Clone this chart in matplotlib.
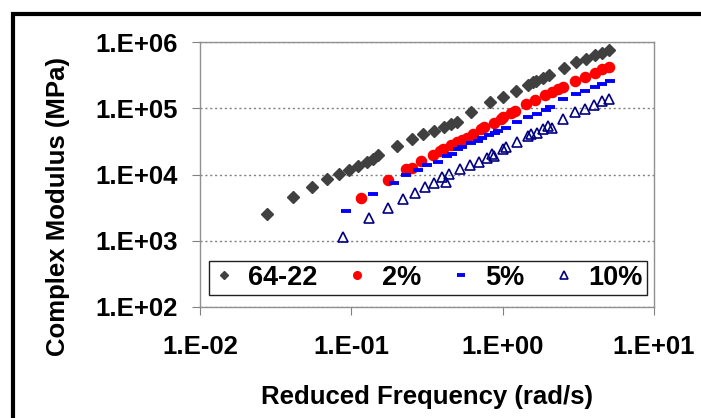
import math
import matplotlib
matplotlib.use("Agg")
import matplotlib.pyplot as plt
from matplotlib.ticker import FuncFormatter, NullLocator
from matplotlib.patches import Rectangle

plt.rcParams['font.family'] = ['Liberation Sans', 'DejaVu Sans']
plt.rcParams['font.weight'] = 'bold'

# 64-22 binder
f_base = [0.0276, 0.0414, 0.0552, 0.0694, 0.0829, 0.0970, 0.111, 0.126, 0.140, 0.149,
          0.200, 0.250, 0.299, 0.351, 0.409, 0.456, 0.499, 0.614, 0.821, 1.012,
          1.226, 1.461, 1.596, 1.671, 1.849, 2.020, 2.538, 3.033, 3.574, 4.081,
          4.539, 5.01]
e_base = [2520, 4520, 6530, 8460, 10190, 11700, 13590, 15450, 17340, 19500,
          26980, 34200, 40300, 46000, 51400, 57700, 62300, 86700, 122800, 147700,
          183300, 226000, 244800, 257000, 281300, 320100, 408600, 491300, 555000, 627000,
          689000, 746000]

# 2%
f_2 = [0.1154, 0.174, 0.230, 0.2507, 0.2888, 0.3457, 0.3857, 0.4056, 0.4574, 0.5021,
       0.5392, 0.5843, 0.6327, 0.7224, 0.7538, 0.8774, 0.9714, 1.011, 1.142, 1.208,
       1.428, 1.637, 1.906, 2.111, 2.334, 2.50, 3.024, 3.504, 4.081, 4.539, 5.05]
e_2 = [4457, 8260, 11990, 12630, 15730, 19520, 22670, 24060, 27760, 30810,
       33270, 35660, 40710, 49140, 51790, 60560, 69620, 73370, 84600, 91990,
       116600, 135400, 158400, 174000, 193200, 210800, 257000, 298500, 343200, 385000, 423000]

# 5%
f_5 = [0.0920, 0.1391, 0.1921, 0.2310, 0.2772, 0.3150, 0.3713, 0.4272, 0.4608, 0.5098,
       0.5367, 0.6164, 0.6910, 0.7308, 0.8107, 0.8907, 0.9367, 1.045, 1.245, 1.461,
       1.688, 1.921, 2.057, 2.518, 3.033, 3.504, 4.081, 4.539, 5.09]
e_5 = [2823, 5018, 7360, 9660, 11820, 13680, 15620, 19050, 20080, 24060,
       26340, 30280, 32450, 35290, 39320, 42900, 45510, 49650, 62930, 73370,
       82860, 94580, 105000, 137300, 166300, 184600, 208600, 235600, 259700]

# 10%
f_10 = [0.0877, 0.1315, 0.1756, 0.2207, 0.2636, 0.3083, 0.3504, 0.3959, 0.4206, 0.4422,
        0.5231, 0.6089, 0.695, 0.785, 0.847, 0.8774, 1.011, 1.053, 1.245, 1.479,
        1.533, 1.688, 1.858, 2.005, 2.105, 2.507, 3.010, 3.504, 4.019, 4.539, 5.064]
e_10 = [1146, 2175, 3147, 4335, 5250, 6404, 7568, 9070, 7621, 10100,
        11900, 13780, 15620, 17960, 20570, 18720, 23890, 25790, 31350, 37840,
        40570, 42900, 48290, 54160, 51050, 69860, 86700, 98970, 112600, 129400, 138800]

fig = plt.figure(figsize=(7.01, 4.18), dpi=100)
ax = fig.add_axes([200/701, 111/418, 454/701, 265/418])

ax.plot(f_base, e_base, ls='none', marker='D', ms=6, color='#404040', mec='#404040', label='64-22')
ax.plot(f_2, e_2, ls='none', marker='o', ms=7.3, color='#ff0000', mec='#ff0000', label='2%')
ax.plot(f_5, e_5, ls='none', marker='_', ms=7, mew=2.8, color='#0000ff', label='5%')
ax.plot(f_10, e_10, ls='none', marker='^', ms=7.3, mfc='none', mec='#000080', mew=1.2, label='10%')

ax.set_xscale('log')
ax.set_yscale('log')
ax.set_xlim(1e-2, 1e1)
ax.set_ylim(1e2, 1e6)

fmt = FuncFormatter(lambda v, p: "1.E%+03d" % round(math.log10(v)))
ax.xaxis.set_major_formatter(fmt)
ax.yaxis.set_major_formatter(fmt)
ax.xaxis.set_minor_locator(NullLocator())
ax.yaxis.set_minor_locator(NullLocator())
ax.tick_params(axis='both', which='major', direction='out', length=6, width=0.8,
               color='#808080', labelsize=18.5, pad=10)
ax.tick_params(axis='x', pad=14)
for s in ax.spines.values():
    s.set_color('#909090')
    s.set_linewidth(1)

ax.grid(axis='y', which='major', ls=(0, (1.5, 2)), color='#808080', lw=1)

leg = ax.legend(loc='lower left', bbox_to_anchor=(9/454, 12/265, 438/454, 33/265),
                mode='expand', ncol=4, borderaxespad=0, fontsize=19.5, handlelength=0.8,
                handletextpad=0.5, fancybox=False, framealpha=1, edgecolor='#202020',
                borderpad=0.15, markerscale=0.75, columnspacing=1.0)
leg.get_frame().set_linewidth(1)

fig.text(58/701, 1 - 207/418, 'Complex Modulus (MPa)', rotation=90, ha='center', va='center',
         fontsize=18.5, fontweight='bold')
fig.text(427/701, 1 - 397/418, 'Reduced Frequency (rad/s)', ha='center', va='center',
         fontsize=18.5, fontweight='bold')

fig.add_artist(Rectangle((13.5/701, -0.1), 1.2, 1.1 - 14/418, fill=False, lw=3,
                         ec='black', transform=fig.transFigure, clip_on=False))

fig.savefig('out.png', dpi=100)
